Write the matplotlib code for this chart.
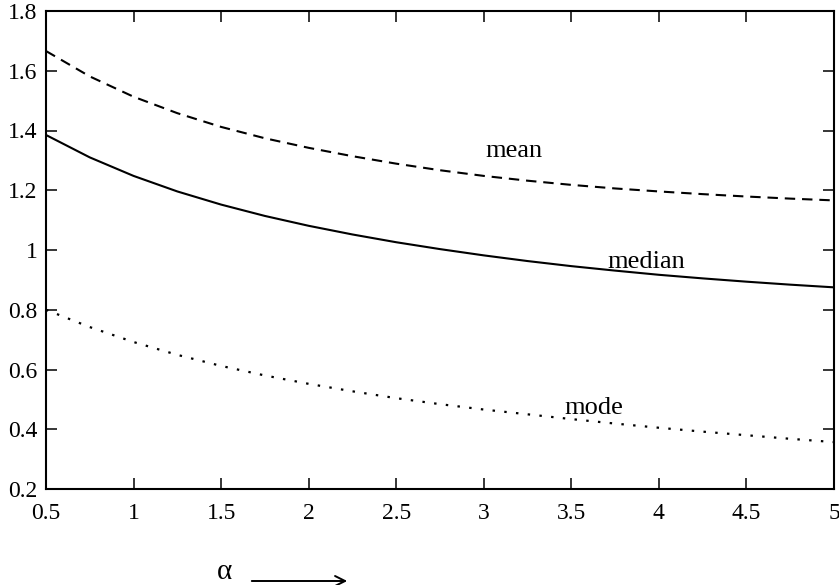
import matplotlib
matplotlib.use("Agg")
import matplotlib.pyplot as plt

plt.rcParams['font.family'] = ['Liberation Serif', 'DejaVu Serif']

alpha = [0.5, 0.75, 1.0, 1.25, 1.5, 1.75, 2.0, 2.25, 2.5, 2.75,
         3.0, 3.25, 3.5, 3.75, 4.0, 4.25, 4.5, 4.75, 5.0]
mean = [1.666, 1.581, 1.513, 1.458, 1.412, 1.374, 1.342, 1.314, 1.289, 1.267,
        1.248, 1.232, 1.218, 1.206, 1.196, 1.187, 1.179, 1.172, 1.166]
median = [1.385, 1.31, 1.248, 1.196, 1.152, 1.114, 1.081, 1.052, 1.026, 1.003,
          0.982, 0.963, 0.946, 0.931, 0.917, 0.905, 0.894, 0.884, 0.875]
mode = [0.80, 0.742, 0.692, 0.649, 0.612, 0.580, 0.552, 0.527, 0.504, 0.484,
        0.466, 0.45, 0.434, 0.419, 0.405, 0.392, 0.38, 0.368, 0.357]

xticks = [0.5, 1, 1.5, 2, 2.5, 3, 3.5, 4, 4.5, 5]
yticks = [0.2, 0.4, 0.6, 0.8, 1.0, 1.2, 1.4, 1.6, 1.8]

fig = plt.figure(figsize=(8.39, 5.85), dpi=100)
ax = fig.add_axes([46 / 839, 1 - 489 / 585, 788 / 839, 478 / 585])

ax.plot(alpha, mean, color='black', lw=1.5, ls=(0, (5, 3.3)))
ax.plot(alpha, median, color='black', lw=1.5, ls='-')
ax.plot(alpha, mode, color='black', lw=1.6, ls=(0, (1.1, 4.2)))

ax.text(3.17, 1.311, 'mean', fontsize=19, ha='center', va='baseline')
ax.text(3.93, 0.94, 'median', fontsize=19, ha='center', va='baseline')
ax.text(3.63, 0.451, 'mode', fontsize=19, ha='center', va='baseline')

ax.set_xlim(0.5, 5)
ax.set_ylim(0.2, 1.8)
ax.set_xticks(xticks)
ax.set_xticklabels(['0.5', '1', '1.5', '2', '2.5', '3', '3.5', '4', '4.5', '5'])
ax.set_yticks(yticks)
ax.set_yticklabels(['0.2', '0.4', '0.6', '0.8', '1', '1.2', '1.4', '1.6', '1.8'])
ax.tick_params(direction='in', length=8, width=1.1, top=True, right=True,
               labelsize=17)
ax.tick_params(axis='x', pad=10)
ax.tick_params(axis='y', pad=6)
for s in ax.spines.values():
    s.set_linewidth(1.5)

# alpha with arrow under the axis
fig.text(225 / 839, 0.0, 'α', fontsize=21, ha='center', va='bottom')
ax.annotate('', xy=(350 / 839, 1 - 581 / 585), xytext=(249 / 839, 1 - 581 / 585),
            xycoords='figure fraction', textcoords='figure fraction',
            arrowprops=dict(arrowstyle='->', color='black', lw=1.4,
                            mutation_scale=18))

fig.savefig('out.png', dpi=100)
